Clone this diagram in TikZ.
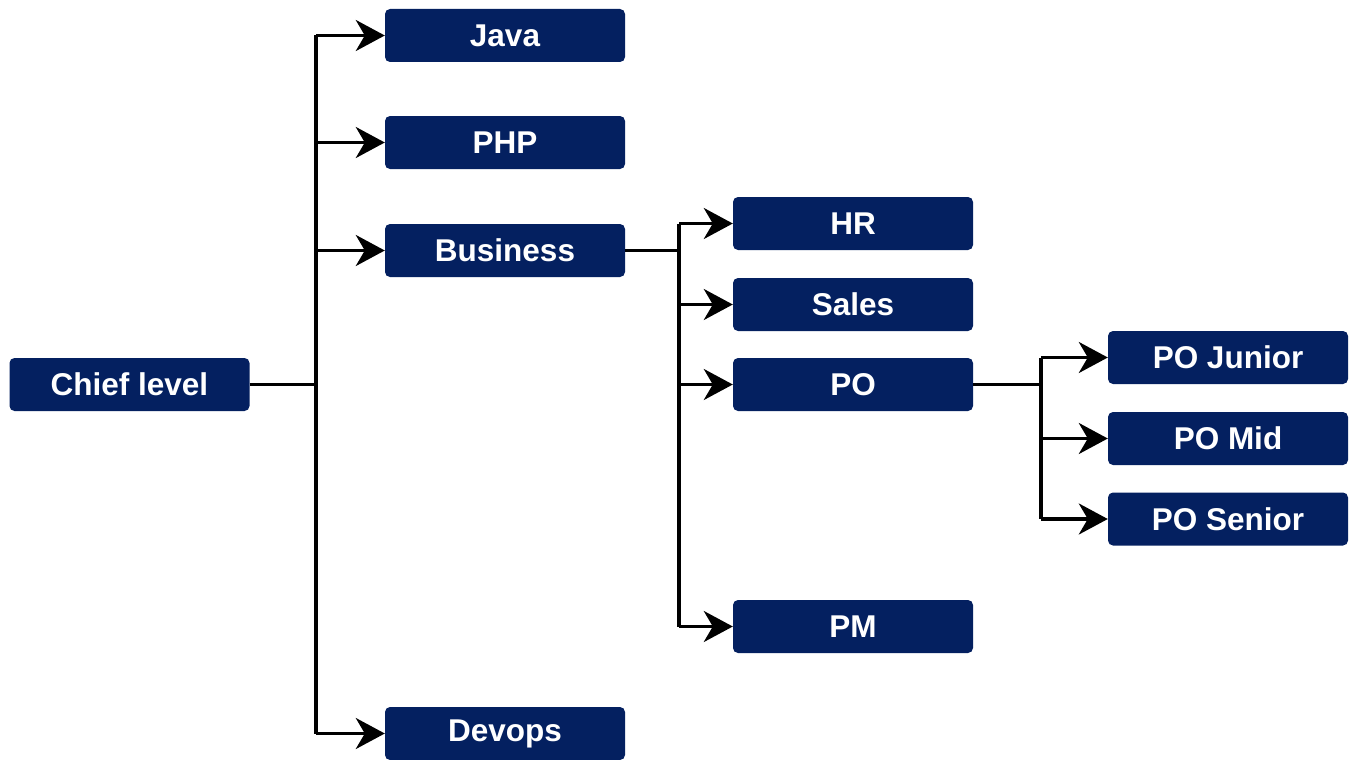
\documentclass[tikz,border=0pt]{standalone}
\usepackage{fontspec}
\setmainfont{Liberation Sans}
\usetikzlibrary{arrows.meta}
\definecolor{boxblue}{RGB}{4,32,96}
\begin{document}
\begin{tikzpicture}[x=1pt,y=-1pt,
  box/.style={draw=none,fill=boxblue,rounded corners=5pt,minimum width=240pt,minimum height=53pt,inner sep=0pt,text=white,font=\fontsize{31.5}{36}\selectfont\bfseries},
  conn/.style={line width=3.3pt,-{Stealth[length=29pt,width=31pt,inset=9pt]}},
  plain/.style={line width=3.3pt}]
\useasboundingbox (0,0) rectangle (1349,760);
\node[box] (chief) at (129.5,384.5) {Chief level};
\node[box] (java) at (505,35.5) {Java};
\node[box] (php) at (505,142.5) {PHP};
\node[box] (bus) at (505,250.5) {Business};
\node[box] (dev) at (505,733.5) {Devops};
\node[box] (hr) at (853,223.5) {HR};
\node[box] (sales) at (853,304.5) {Sales};
\node[box] (po) at (853,384.5) {PO};
\node[box] (pm) at (853,626.5) {PM};
\node[box] (poj) at (1228,357.5) {PO Junior};
\node[box] (pom) at (1228,438.5) {PO Mid};
\node[box] (pos) at (1228,519) {PO Senior};
\coordinate (t1) at (316,384.5);
\coordinate (t2) at (679,250.5);
\coordinate (t3) at (1041,384.5);
\draw[plain] (chief.east) -- (t1);
\draw[plain] (t1 |- java) -- (t1 |- dev);
\foreach \n in {java,php,bus,dev} \draw[conn] (t1 |- \n) -- (\n.west);
\draw[plain] (bus.east) -- (t2);
\draw[plain] (t2 |- hr) -- (t2 |- pm);
\foreach \n in {hr,sales,po,pm} \draw[conn] (t2 |- \n) -- (\n.west);
\draw[plain] (po.east) -- (t3);
\draw[plain] (t3 |- poj) -- (t3 |- pos);
\foreach \n in {poj,pom,pos} \draw[conn] (t3 |- \n) -- (\n.west);
\end{tikzpicture}
\end{document}
